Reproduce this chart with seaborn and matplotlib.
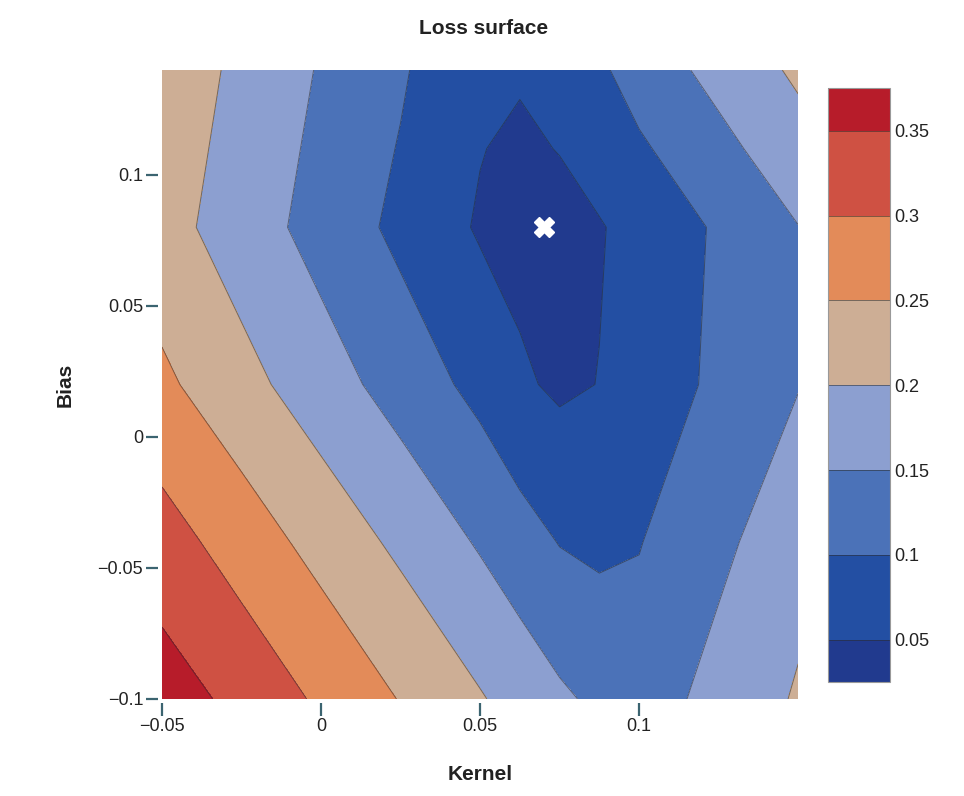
import numpy as np
import matplotlib
matplotlib.use('Agg')
import matplotlib.pyplot as plt
import seaborn as sns
from matplotlib.colors import ListedColormap
from matplotlib.ticker import FuncFormatter

# grid of the loss surface
kernel = [-0.05, -0.025, 0.0, 0.025, 0.05, 0.0625, 0.075, 0.0875, 0.1, 0.125, 0.15]
bias = [-0.1, -0.04, 0.02, 0.08, 0.11, 0.14]

loss_bm010 = [0.374, 0.3363, 0.292, 0.2477, 0.2039, 0.181, 0.1582, 0.140, 0.122, 0.1685, 0.2046]
loss_bm004 = [0.3215, 0.277, 0.2326, 0.1892, 0.1447, 0.121, 0.098, 0.090, 0.098, 0.138, 0.184]
loss_b002 = [0.2598, 0.2162, 0.1728, 0.1293, 0.0857, 0.057, 0.042, 0.051, 0.060, 0.1135, 0.148]
loss_b008 = [0.2187, 0.1753, 0.1316, 0.0882, 0.0448, 0.036, 0.030, 0.047, 0.0644, 0.1065, 0.149]
loss_b011 = [0.2254, 0.1822, 0.1388, 0.0971, 0.052, 0.040, 0.052, 0.069, 0.0929, 0.136, 0.1803]
loss_b014 = [0.232, 0.189, 0.146, 0.106, 0.054, 0.056, 0.062, 0.092, 0.1214, 0.1655, 0.2086]

best_kernel = 0.07
best_bias = 0.08

levels = [0.025, 0.05, 0.1, 0.15, 0.2, 0.25, 0.3, 0.35, 0.375]
cbar_ticks = [0.05, 0.1, 0.15, 0.2, 0.25, 0.3, 0.35]
band_colors = ['#213a8e', '#234fa3', '#4b72b8', '#8c9fd0',
               '#cdae95', '#e38b59', '#cf5143', '#b71c2a']

sns.set_theme(style='white')
plt.rcParams['font.family'] = ['Liberation Sans', 'DejaVu Sans']

Z = np.array([loss_bm010, loss_bm004, loss_b002, loss_b008, loss_b011, loss_b014])
cmap = ListedColormap(sns.color_palette(band_colors))

fig = plt.figure(figsize=(9.64, 7.96), dpi=100)
ax = fig.add_axes([0.168, 0.122, 0.66, 0.79])
cax = fig.add_axes([0.859, 0.143, 0.064, 0.746])

cs = ax.contourf(kernel, bias, Z, levels=levels, cmap=cmap)
lines = ax.contour(kernel, bias, Z, levels=levels[1:-1], colors='#2b2b2b',
                   linewidths=0.7, alpha=0.55)
ax.plot(best_kernel, best_bias, marker='X', color='white', ms=15,
        mec='white', mew=1, ls='none')

ax.set_xlim(-0.05, 0.15)
ax.set_ylim(-0.1, 0.14)
ax.set_xticks([-0.05, 0, 0.05, 0.1])
ax.set_yticks([-0.1, -0.05, 0, 0.05, 0.1])
fmt = FuncFormatter(lambda v, p: ('%g' % v).replace('-', '\u2212'))
ax.xaxis.set_major_formatter(fmt)
ax.yaxis.set_major_formatter(fmt)
for s in ax.spines.values():
    s.set_visible(False)
ax.spines['left'].set_position(('outward', 3))
ax.spines['bottom'].set_position(('outward', 3))
ax.tick_params(bottom=True, left=True, direction='out', length=9, width=1.6,
               color='#3b6470', labelsize=13, labelcolor='#222222', pad=1.5)

ax.set_xlabel('Kernel', fontsize=15, fontweight='bold', color='#222222')
ax.set_ylabel('Bias', fontsize=15, fontweight='bold', color='#222222')
ax.xaxis.set_label_coords(0.5, -0.105)
ax.yaxis.set_label_coords(-0.137, 0.5)
fig.text(0.502, 0.964, 'Loss surface', ha='center', va='center',
         fontsize=15, fontweight='bold', color='#222222')

cbar = fig.colorbar(cs, cax=cax, ticks=cbar_ticks, spacing='proportional')
cbar.add_lines(lines)
cbar.ax.yaxis.set_major_formatter(FuncFormatter(lambda v, p: '%g' % v))
cbar.ax.tick_params(length=0, labelsize=13, labelcolor='#222222', pad=3)
cbar.outline.set_edgecolor('#999999')
cbar.outline.set_linewidth(0.8)

fig.savefig('out.png', dpi=100, facecolor='white')
